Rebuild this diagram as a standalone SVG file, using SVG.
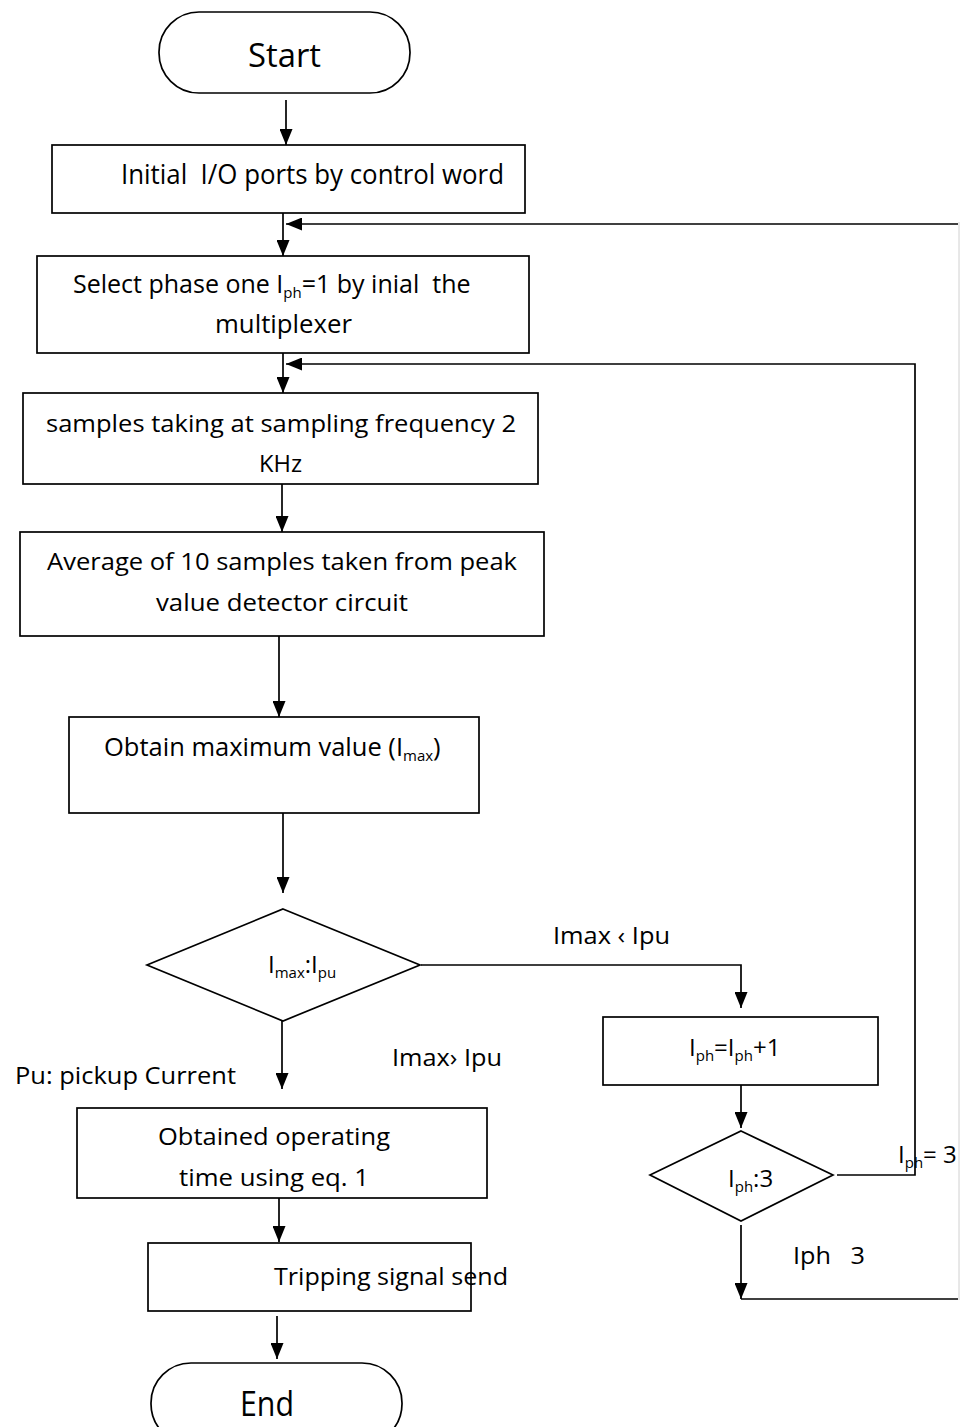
<svg xmlns="http://www.w3.org/2000/svg" width="960" height="1427" viewBox="0 0 960 1427">
<style>
.box{fill:#fff;stroke:#000;stroke-width:1.7}
.ln{fill:none;stroke:#000;stroke-width:1.7}
.t{font-family:"Open Sans","Liberation Sans",sans-serif;fill:#000;font-size:24px}
.sub{font-size:15px}
</style>
<defs>
<marker id="ah" viewBox="0 0 16 13" refX="16" refY="6.5" markerWidth="16" markerHeight="13" markerUnits="userSpaceOnUse" orient="auto">
<path d="M0,0 L16,6.5 L0,13 z" fill="#000"/>
</marker>
</defs>
<rect width="960" height="1427" fill="#fff"/>

<g id="connectors">
<line class="ln" x1="286" y1="100" x2="286" y2="145" marker-end="url(#ah)"/>
<line class="ln" x1="283" y1="213" x2="283" y2="256" marker-end="url(#ah)"/>
<path class="ln" d="M958,224 H286" marker-end="url(#ah)"/>
<line x1="959" y1="222" x2="959" y2="1300" stroke="#d0d0d0" stroke-width="1"/>
<path class="ln" d="M837,1175 H915 V364 H286" marker-end="url(#ah)"/>
<line class="ln" x1="283" y1="353" x2="283" y2="393" marker-end="url(#ah)"/>
<line class="ln" x1="282" y1="484" x2="282" y2="532" marker-end="url(#ah)"/>
<line class="ln" x1="279" y1="636" x2="279" y2="717" marker-end="url(#ah)"/>
<line class="ln" x1="283" y1="813" x2="283" y2="893" marker-end="url(#ah)"/>
<path class="ln" d="M421,965 H741 V1008" marker-end="url(#ah)"/>
<line class="ln" x1="282" y1="1021" x2="282" y2="1089" marker-end="url(#ah)"/>
<line class="ln" x1="741" y1="1085" x2="741" y2="1128" marker-end="url(#ah)"/>
<line class="ln" x1="741" y1="1225" x2="741" y2="1299" marker-end="url(#ah)"/>
<path class="ln" d="M741,1299 H958"/>
<line class="ln" x1="279" y1="1198" x2="279" y2="1242" marker-end="url(#ah)"/>
<line class="ln" x1="277" y1="1316" x2="277" y2="1359" marker-end="url(#ah)"/>
</g>

<g id="start">
<rect class="box" x="159" y="12" width="251" height="81" rx="40" ry="40"/>
<text class="t" x="248" y="67" style="font-size:33px" textLength="73" lengthAdjust="spacingAndGlyphs">Start</text>
</g>

<g id="init">
<rect class="box" x="52" y="145" width="473" height="68"/>
<text class="t" x="121" y="184" style="font-size:28px" xml:space="preserve" textLength="383" lengthAdjust="spacingAndGlyphs">Initial  I/O ports by control word</text>
</g>

<g id="select">
<rect class="box" x="37" y="256" width="492" height="97"/>
<text class="t" x="73" y="293" style="font-size:25px" xml:space="preserve">Select phase one I<tspan class="sub" dy="5">ph</tspan><tspan dy="-5">=1 by inial  the</tspan></text>
<text class="t" x="215" y="333" style="font-size:25px" textLength="137" lengthAdjust="spacingAndGlyphs">multiplexer</text>
</g>

<g id="samples">
<rect class="box" x="23" y="393" width="515" height="91"/>
<text class="t" x="46" y="432" textLength="470" lengthAdjust="spacingAndGlyphs">samples taking at sampling frequency 2</text>
<text class="t" x="259" y="472" textLength="43" lengthAdjust="spacingAndGlyphs">KHz</text>
</g>

<g id="average">
<rect class="box" x="20" y="532" width="524" height="104"/>
<text class="t" x="47" y="570" textLength="470" lengthAdjust="spacingAndGlyphs">Average of 10 samples taken from peak</text>
<text class="t" x="156" y="611" textLength="252" lengthAdjust="spacingAndGlyphs">value detector circuit</text>
</g>

<g id="maxval">
<rect class="box" x="69" y="717" width="410" height="96"/>
<text class="t" x="104" y="756" style="font-size:25.5px">Obtain maximum value (I<tspan class="sub" dy="5">max</tspan><tspan dy="-5">)</tspan></text>
</g>

<g id="decision1">
<polygon class="box" points="283,909 420,965 283,1021 147,965"/>
<text class="t" x="268" y="973">I<tspan class="sub" dy="5">max</tspan><tspan dy="-5">:I</tspan><tspan class="sub" dy="5">pu</tspan></text>
</g>

<g id="incr">
<rect class="box" x="603" y="1017" width="275" height="68"/>
<text class="t" x="689" y="1056">I<tspan class="sub" dy="5">ph</tspan><tspan dy="-5">=I</tspan><tspan class="sub" dy="5">ph</tspan><tspan dy="-5">+1</tspan></text>
</g>

<g id="decision2">
<polygon class="box" points="741,1131 833,1175 741,1221 650,1175"/>
<text class="t" x="728" y="1187">I<tspan class="sub" dy="5">ph</tspan><tspan dy="-5">:3</tspan></text>
</g>

<g id="optime">
<rect class="box" x="77" y="1108" width="410" height="90"/>
<text class="t" x="158" y="1145" textLength="232" lengthAdjust="spacingAndGlyphs">Obtained operating</text>
<text class="t" x="179" y="1186" textLength="190" lengthAdjust="spacingAndGlyphs">time using eq. 1</text>
</g>

<g id="trip">
<rect class="box" x="148" y="1243" width="323" height="68"/>
<text class="t" x="274" y="1285" textLength="234" lengthAdjust="spacingAndGlyphs">Tripping signal send</text>
</g>

<g id="end">
<rect class="box" x="151" y="1363" width="251" height="81" rx="40" ry="40"/>
<text class="t" x="240" y="1416" style="font-size:34px" textLength="54" lengthAdjust="spacingAndGlyphs">End</text>
</g>

<g id="labels">
<text class="t" x="553" y="944" xml:space="preserve" textLength="117" lengthAdjust="spacingAndGlyphs">Imax ‹ Ipu</text>
<text class="t" x="392" y="1066" xml:space="preserve" textLength="110" lengthAdjust="spacingAndGlyphs">Imax› Ipu</text>
<text class="t" x="15" y="1084" textLength="221" lengthAdjust="spacingAndGlyphs">Pu: pickup Current</text>
<text class="t" x="898" y="1163" xml:space="preserve">I<tspan class="sub" dy="5">ph</tspan><tspan dy="-5">= 3</tspan></text>
<text class="t" x="793" y="1264" xml:space="preserve" textLength="72" lengthAdjust="spacingAndGlyphs">Iph   3</text>
</g>
</svg>
